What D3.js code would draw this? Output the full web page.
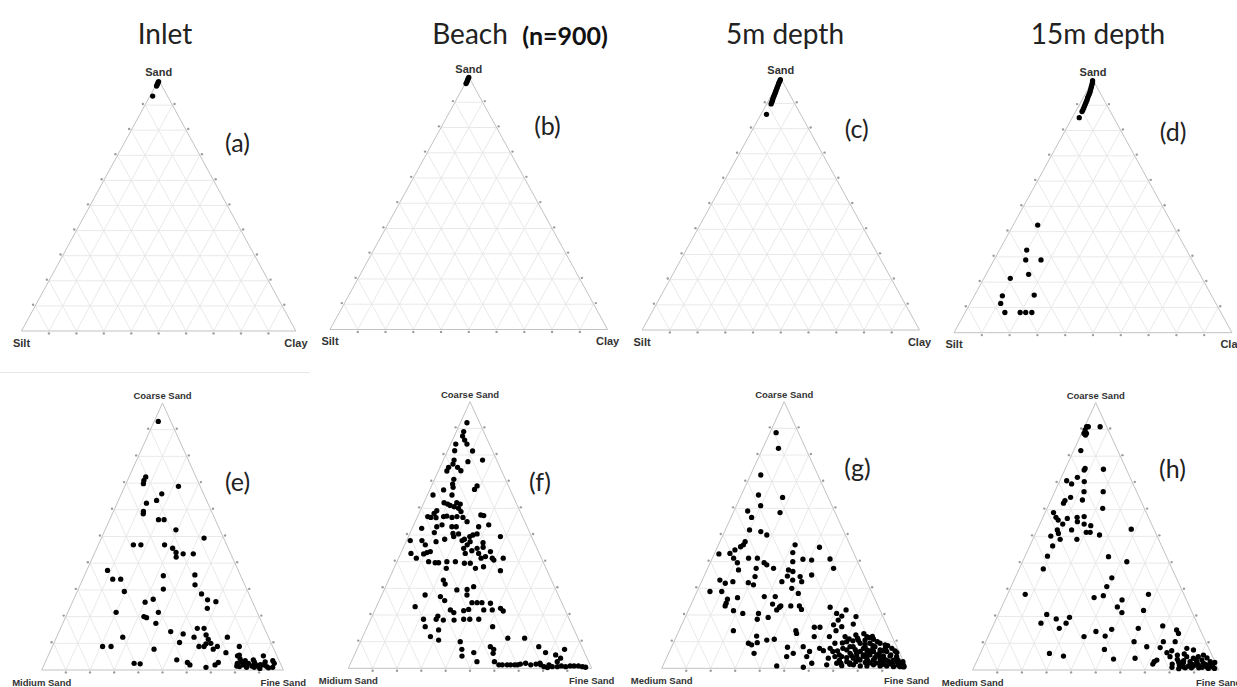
<!DOCTYPE html>
<html><head><meta charset="utf-8">
<script src="https://cdn.jsdelivr.net/npm/d3@7/dist/d3.min.js"></script>
<style>body{margin:0;background:#fff;overflow:hidden}svg{display:block}</style>
</head><body>
<svg id="chart" width="1237" height="687"></svg>
<script>
// ---------- text ----------
const columnTitles = ["Inlet", "Beach", "5m depth", "15m depth"];
const sampleLabel = "(n=900)";
const panelTags = ["(a)", "(b)", "(c)", "(d)", "(e)", "(f)", "(g)", "(h)"];
const soilAxes = ["Sand", "Silt", "Clay"];                 // top, left, right
const sandAxesOld = ["Coarse Sand", "Midium Sand", "Fine Sand"];
const sandAxesNew = ["Coarse Sand", "Medium Sand", "Fine Sand"];

// ---------- data: [top %, right %]  (left % = 100 - top - right) ----------
// top row: [Sand %, Clay %]
const inletSoil = [[99.3,0.3],[98.8,0.3],[98.2,0.4],[97.6,0.4],[93.6,1.0]];
const beachSoil = [[99.8,0.1],[99.2,0.1],[98.6,0.2],[98.0,0.3],[97.4,0.3]];
const depth5Soil = [[99.5,0.1],[99.0,0.2],[98.4,0.2],[97.8,0.3],[97.2,0.4],[96.5,0.5],[95.9,0.6],[95.2,0.7],[94.6,0.8],[94.0,0.9],[93.3,1.0],[92.6,1.1],[91.9,1.2],[91.2,1.4],[90.5,1.5],[89.8,1.6],[85.7,2.0]];
const depth15Soil = [[99.7,0.0],[99.0,0.3],[98.3,0.5],[97.5,0.7],[96.8,0.9],[96.0,1.1],[95.2,1.3],[94.5,1.4],[93.7,1.5],[92.9,1.6],[92.1,1.8],[91.3,1.9],[90.5,2.0],[89.7,2.1],[88.9,2.2],[88.1,2.3],[87.5,2.3],[85.1,2.5],
  [42.6,8.8],[32.7,9.8],[28.8,11.4],[28.8,16.9],[21.5,9.5],[23.1,15.3],[14.6,10.1],[14.9,21.4],[11.6,11.0],[8.0,14.3],[8.0,19.8],[8.0,21.8],[8.0,24.0]];

// bottom row: [Coarse %, Fine %]
const inletSand = [[93.1,1.7],[72.3,6.9],[71.0,6.8],[69.8,7.2],[68.8,22.2],[66.0,16.7],[63.5,15.8],[62.5,12.1],[59.4,12.4],[58.5,12.8],[56.3,20.2],[56.3,22.5],[52.5,29.3],[49.4,42.5],[46.9,14.5],[46.9,17.6],[46.9,27.4],[45.6,31.4],[44.0,33.6],[42.3,34.5],[43.5,36.8],[43.5,41.0],[37.3,8.6],[34.0,12.4],[34.0,15.7],[35.3,32.7],[30.3,35.2],[35.6,45.6],[31.9,47.5],[29.4,19.5],[28.5,51.9],[26.5,32.9],[25.4,30.1],[26.3,55.5],[25.6,59.3],[23.1,57.0],[21.6,20.0],[20.0,32.3],[19.6,33.6],[21.6,37.5],[17.5,38.5],[15.6,56.6],[15.6,59.4],[14.4,46.2],[13.5,51.8],[12.3,56.9],[13.1,61.5],[11.5,63.2],[10.0,65.0],[12.3,70.7],[8.8,20.8],[8.8,24.3],[12.3,27.4],[10.3,51.9],[8.8,60.7],[8.8,62.8],[9.8,63.1],[7.8,67.1],[8.8,68.3],[7.8,42.6],[6.5,73.0],[8.8,77.4],[5.6,79.0],[2.5,37.0],[2.3,39.6],[3.8,54.0],[2.8,58.9],[1.9,60.4],[1.0,67.5],[1.9,70.8],[2.8,71.7],[5.3,78.4],[2.5,79.7],[1.3,81.2],[1.9,82.5],[2.5,84.3],[1.5,86.2],[2.3,87.2],[1.5,88.9],[5.3,89.1],[1.9,90.8],[1.3,92.5],[3.5,93.9],[1.0,95.1],[3.1,81.2],[1.0,84.3],[3.8,85.7],
  [4.2,80.0],[2.0,83.2],[3.0,86.5],[1.0,87.5],[2.0,89.5],[0.6,90.0],[3.0,91.0],[2.5,95.0],[0.8,93.5],[1.5,80.0],[3.5,82.5]];

const beachSand = [[92.1,2.7],[88.8,3.0],[87.1,3.4],[85.6,5.0],[84.1,6.7],[81.5,10.3],[84.1,2.1],[81.6,2.9],[78.1,16.1],[78.1,4.4],[76.6,4.7],[75.4,7.2],[75.4,3.5],[74.0,3.5],[74.1,9.2],[77.5,10.4],[70.9,7.9],[69.1,8.3],[67.9,9.1],[68.4,18.7],[67.1,18.3],[66.9,5.7],[65.0,10.1],[65.0,2.3],[62.1,8.3],[61.6,10.0],[61.1,11.3],[60.6,13.2],[62.1,13.5],[61.6,15.2],[60.0,15.3],[58.8,16.9],[59.1,6.8],[58.1,6.2],[56.9,4.2],[56.6,5.6],[56.5,7.8],[56.9,10.7],[57.1,11.9],[56.6,14.3],[56.9,16.2],[53.1,17.8],[57.5,25.7],[57.3,27.0],[56.6,18.8],[55.0,21.3],[53.1,9.8],[50.9,9.9],[53.8,11.6],[53.1,16.0],[50.6,17.7],[50.4,20.1],[52.5,3.9],[53.1,27.0],[53.8,30.8],[47.9,1.5],[47.9,6.3],[46.3,8.5],[43.4,10.6],[42.9,9.5],[47.5,12.3],[48.4,15.4],[49.4,18.6],[47.9,22.8],[48.4,23.5],[49.4,25.2],[46.3,25.7],[50.0,26.2],[50.4,27.7],[47.5,26.3],[45.0,24.9],[43.1,26.5],[44.1,28.7],[45.0,30.4],[47.1,31.8],[45.4,32.7],[49.4,37.8],[43.1,32.0],[41.3,33.9],[41.9,35.4],[43.8,36.5],[40.6,39.5],[38.1,36.5],[37.5,33.5],[39.4,30.4],[39.4,28.0],[40.0,24.0],[39.6,15.9],[40.0,13.0],[43.1,4.2],[41.3,7.3],[43.8,11.8],[39.6,17.3],[40.0,20.5],[37.5,21.5],[36.6,44.2],[41.3,43.0],[41.3,38.5],[33.1,22.5],[31.6,24.0],[29.4,29.9],[29.6,34.0],[30.6,36.2],[27.5,35.0],[27.5,17.8],[26.9,24.4],[25.4,26.9],[23.1,15.9],[21.9,31.0],[20.9,32.9],[21.6,36.6],[22.1,38.4],[24.6,38.5],[24.6,40.6],[24.6,42.6],[24.4,46.2],[21.9,48.2],[21.9,44.7],[22.5,51.3],[21.5,52.9],[18.4,21.7],[18.4,26.9],[19.6,27.0],[18.1,30.0],[15.6,23.8],[14.4,29.9],[18.1,34.4],[18.4,38.2],[18.4,40.7],[18.4,44.4],[15.6,51.5],[11.3,59.9],[11.3,66.8],[11.9,27.8],[10.6,31.8],[10.0,41.0],[5.9,48.6],[8.1,54.3],[7.1,56.2],[7.1,43.1],[4.6,44.4],[2.5,51.6],[5.6,56.7],[2.5,58.8],[1.3,61.2],[1.3,62.6],[1.3,64.6],[1.3,66.0],[1.3,67.7],[1.3,68.8],[1.3,74.3],[1.9,77.8],[1.3,78.4],[0.6,80.1],[0.3,81.7],[1.3,81.8],[0.6,83.5],[0.6,85.6],[0.9,87.1],[0.6,89.0],[0.9,90.7],[0.9,92.3],[0.9,94.1],[0.6,95.9],[0.4,97.3],[8.1,74.2],[5.9,78.1],[5.0,82.7],[3.8,85.3],[7.1,85.3],[2.5,84.6],[1.6,69.9],[1.9,71.9],[1.6,76.3]];

const depth5Sand = [[88.4,2.5],[82.5,6.4],[72.5,4.2],[65.0,7.0],[64.1,17.3],[61.0,9.9],[58.4,19.1],[59.0,5.6],[56.6,8.4],[51.9,9.9],[51.3,14.8],[50.0,17.9],[47.5,10.3],[46.3,10.2],[45.6,9.4],[44.4,7.7],[43.1,6.3],[42.9,1.9],[41.3,8.7],[39.6,11.1],[36.9,12.9],[41.3,14.8],[41.3,18.4],[39.6,22.0],[38.8,23.5],[37.5,26.9],[37.5,19.8],[34.4,20.9],[32.1,19.3],[31.3,21.8],[33.1,7.2],[31.9,10.0],[32.5,12.8],[28.8,5.3],[28.8,10.1],[25.9,13.9],[26.5,17.7],[24.4,14.1],[23.4,14.2],[26.9,28.4],[26.9,32.9],[24.1,33.2],[22.9,36.6],[21.9,36.0],[23.4,36.9],[23.4,41.0],[23.4,44.5],[22.1,46.0],[40.0,33.5],[36.3,35.4],[36.9,33.3],[34.6,34.0],[34.4,39.3],[35.0,43.7],[40.6,40.9],[45.4,41.7],[41.0,48.2],[46.3,31.3],[43.4,31.8],[40.9,37.2],[30.0,38.1],[32.5,32.8],[33.1,36.9],[32.5,40.9],[28.1,41.7],[21.6,18.5],[20.6,22.8],[20.6,29.2],[19.1,33.9],[18.4,29.8],[14.1,22.2],[9.4,30.7],[8.8,32.3],[12.1,32.7],[9.6,34.2],[10.6,37.6],[10.9,40.5],[5.6,34.9],[0.9,46.5],[0.4,57.6],[5.6,50.9],[7.9,47.4],[4.4,48.8],[14.1,47.7],[13.1,48.5],[8.1,53.7],[6.3,57.2],[4.4,57.0],[15.4,54.6],[15.4,56.9],[11.9,56.3],[7.5,60.7],[3.8,66.1],[1.9,60.3],[37.5,51.4],[22.9,57.3],[20.6,61.1],[18.1,63.0],[16.3,62.0],[19.6,63.7],[11.9,68.9],[10.0,70.5],[9.4,66.0],[6.6,62.7],[11.9,62.5],[14.1,64.1],[15.6,65.7],[16.6,69.9],[21.9,64.3],[19.4,69.6],[10.3,72.9],[7.5,70.2],[7.5,65.0],[4.4,68.5],[1.3,66.7],[1.9,70.5],[6.3,66.7],
  [8.1,74.1],[9.4,76.3],[10.6,77.7],[9.4,80.3],[8.1,83.0],[9.4,84.4],[6.3,77.9],[6.9,80.3],[6.3,83.3],[6.9,85.7],[6.3,88.7],[3.8,76.3],[3.1,79.4],[3.8,81.8],[3.1,84.8],[3.8,87.2],[3.1,90.2],[3.1,93.0],[2.1,96.2],[2.5,74.3],[1.3,77.6],[0.9,80.6],[0.9,83.3],[1.3,85.8],[0.9,88.7],[0.9,91.4],[0.6,94.3],[0.6,97.0],[0.5,98.5],[5.6,74.1],[5.0,77.1],[5.0,79.8],[5.0,82.5],[5.0,85.3],[4.6,88.2],[4.6,90.9],[4.4,93.7],[4.4,71.3],[6.9,72.1],[11.3,74.3],[11.9,77.8],[10.9,81.0],[8.8,86.8],[7.5,90.2],[5.9,93.0],[2.5,97.2],[1.9,72.2],[8.1,72.8],
  [7.0,75.5],[2.0,75.8],[2.2,82.0],[2.0,86.5],[2.0,89.8],[1.6,92.8],[3.0,95.0],[7.5,78.6],[4.0,73.5],
  [1.0,73.0],[1.5,76.0],[2.5,78.0],[3.5,78.5],[4.5,80.0],[5.5,81.0],[6.5,81.5],[7.5,82.5],[8.5,82.0],[3.0,82.5],[2.0,84.0],[4.0,85.0],[5.5,86.0],[6.5,87.0],[7.5,87.5],[8.5,88.0],[2.5,88.0],[1.5,89.5],[3.5,89.0],[5.0,91.0],[6.5,92.0],[2.5,91.5],[1.5,93.5],[3.8,94.0],[2.5,94.8],[1.2,95.8],[1.8,97.5],[0.8,98.5],[4.8,75.0],[6.0,76.5],[9.0,78.5],[10.5,75.0],[12.5,73.0],[11.0,71.0],[9.5,69.0],[12.0,80.0],[10.0,83.0],[8.0,79.0],[3.0,71.0],[5.0,70.0],[6.5,68.5],[13.0,76.0],[11.5,79.0]];

const depth15Sand = [[91.0,0.8],[89.8,0.8],[88.5,1.0],[88.5,2.0],[91.0,1.5],[91.0,6.3],[87.9,1.9],[82.1,2.9],[74.8,7.9],[75.4,8.0],[75.1,15.6],[70.8,2.8],[69.6,5.4],[72.1,6.5],[70.5,10.1],[66.7,11.9],[66.7,19.7],[64.6,7.5],[62.4,5.7],[63.4,5.8],[63.6,12.8],[60.5,22.6],[58.9,3.4],[57.1,5.3],[56.1,6.7],[56.7,10.1],[57.1,13.9],[57.4,16.6],[55.5,14.8],[54.6,18.0],[54.0,21.0],[51.5,20.4],[51.5,22.0],[54.6,9.3],[52.4,8.2],[51.1,9.3],[50.1,6.7],[48.9,11.1],[52.4,14.0],[48.9,17.9],[50.5,26.3],[52.7,38.1],[46.4,9.3],[42.6,9.1],[42.4,34.0],[40.5,42.4],[37.8,9.8],[34.5,39.3],[31.2,38.9],[28.3,7.2],[27.1,35.8],[27.8,39.2],[26.2,47.6],[23.6,47.0],[21.5,49.9],[28.3,57.3],[22.3,58.3],[20.8,19.7],[17.5,19.0],[19.1,24.4],[17.5,29.2],[15.6,27.4],[19.7,29.5],[12.5,39.0],[14.4,42.9],[12.7,47.5],[15.2,48.9],[15.6,59.5],[10.6,60.3],[8.7,66.4],[16.5,69.0],[15.0,75.4],[13.7,76.8],[10.6,77.0],[10.6,72.2],[8.4,72.0],[6.5,75.7],[7.2,77.3],[5.6,80.4],[3.1,82.1],[5.0,77.7],[3.7,73.0],[2.2,72.1],[3.1,72.2],[4.4,63.8],[4.1,55.2],[7.7,49.7],[6.2,28.1],[5.2,34.3],[8.1,83.0],[5.0,84.5],[2.7,84.3],[7.5,86.0],[4.4,87.5],[5.0,89.2],[5.6,91.0],[2.5,92.6],[1.5,95.1],[1.0,97.3],[1.5,89.0],[1.5,87.0],[1.9,90.8],[3.1,86.8],[3.1,89.5],[3.7,91.3],[3.1,95.0],[1.2,85.0],[1.2,94.5],[2.0,83.0],[0.8,91.5],[2.2,88.0],
  [0.8,86.0],[1.8,87.8],[2.4,90.0],[0.8,88.5],[1.0,92.8],[2.0,93.8],[0.6,95.5],[0.6,98.0],[1.6,96.5],[2.8,97.0],[4.0,88.8],[4.5,93.0],[0.5,83.5],[1.0,80.5],[2.2,80.0],[4.0,81.2],[6.0,83.0],[3.5,84.0]];

// ---------- layout ----------
const panels = [
  {cx:158.7, hw:137.2, apexY:80,    baseY:331,   axes:soilAxes,    fs:11,  data:inletSoil,   tag:[237.5,144]},
  {cx:468.8, hw:138.8, apexY:77,    baseY:329.5, axes:soilAxes,    fs:11,  data:beachSoil,   tag:[547.5,127]},
  {cx:780.8, hw:138.7, apexY:78.3,  baseY:330,   axes:soilAxes,    fs:11,  data:depth5Soil,  tag:[856.7,130]},
  {cx:1093,  hw:139,   apexY:80,    baseY:332.7, axes:soilAxes,    fs:11,  data:depth15Soil, tag:[1173,132.5]},
  {cx:162.5, hw:120.8, apexY:403,   baseY:670,   axes:sandAxesOld, fs:9.5, data:inletSand,   tag:[237.5,483]},
  {cx:470,   hw:121.7, apexY:401.7, baseY:668.3, axes:sandAxesOld, fs:9.5, data:beachSand,   tag:[540,482.5]},
  {cx:784.2, hw:122.5, apexY:401.7, baseY:668.3, axes:sandAxesNew, fs:9.5, data:depth5Sand,  tag:[857.5,469]},
  {cx:1095.7,hw:123,   apexY:402.7, baseY:670,   axes:sandAxesNew, fs:9.5, data:depth15Sand, tag:[1172.5,470]}
];
const titleX = [165, 470, 785, 1098];

const svg = d3.select("#chart");
svg.append("rect").attr("width",1237).attr("height",687).attr("fill","#fff");
svg.append("line").attr("x1",0).attr("x2",310).attr("y1",372.5).attr("y2",372.5)
   .attr("stroke","#e6e6e6").attr("stroke-width",1);

// titles
svg.selectAll("text.title").data(columnTitles).join("text")
  .attr("class","title")
  .attr("x",(d,i)=>titleX[i]).attr("y",44)
  .attr("text-anchor","middle")
  .style("font-family","Lato, 'Open Sans', sans-serif").style("font-size","28px").style("fill","#222")
  .text(d=>d);
svg.append("text").attr("x",565).attr("y",45).attr("text-anchor","middle")
  .style("font-family","Lato, 'Open Sans', sans-serif").style("font-size","25px").style("font-weight","bold").style("fill","#111")
  .text(sampleLabel);

panels.forEach((p, idx) => {
  const g = svg.append("g");
  const y = d3.scaleLinear().domain([0,100]).range([p.baseY, p.apexY]);
  const x = d3.scaleLinear().domain([0,100]).range([p.cx - p.hw, p.cx + p.hw]);
  const pos = (t, r) => [x(r + t/2), y(t)];
  const steps = d3.range(10, 100, 10);
  const grid = [];
  steps.forEach(k => {
    grid.push([pos(k,0), pos(k,100-k)]);
    grid.push([pos(0,k), pos(100-k,k)]);
    grid.push([pos(0,100-k), pos(100-k,0)]);
  });
  g.selectAll("line.grid").data(grid).join("line")
    .attr("x1",d=>d[0][0]).attr("y1",d=>d[0][1]).attr("x2",d=>d[1][0]).attr("y2",d=>d[1][1])
    .attr("stroke","#e6e6e6").attr("stroke-width",0.9);
  g.append("path")
    .attr("d", d3.line()([pos(100,0), pos(0,0), pos(0,100)]) + "Z")
    .attr("fill","none").attr("stroke","#c2c2c2").attr("stroke-width",1);

  // ticks
  const H = p.baseY - p.apexY, L = Math.hypot(H, p.hw), off = 2.4;
  const ticks = [];
  steps.forEach(k => {
    const a = pos(k,0);   ticks.push([a[0] - off*H/L, a[1] - off*p.hw/L]);
    const b = pos(k,100-k); ticks.push([b[0] + off*H/L, b[1] - off*p.hw/L]);
    const c = pos(0,k);   ticks.push([c[0], c[1] + off]);
  });
  g.selectAll("circle.tick").data(ticks).join("circle")
    .attr("cx",d=>d[0]).attr("cy",d=>d[1]).attr("r",1.2).attr("fill","#9c9c9c");

  // corner labels
  const lab = [
    {t:p.axes[0], x:p.cx, y:p.apexY - 4},
    {t:p.axes[1], x:p.cx - p.hw, y:p.baseY + 15.5},
    {t:p.axes[2], x:p.cx + p.hw, y:p.baseY + 15.5}
  ];
  g.selectAll("text.ax").data(lab).join("text")
    .attr("x",d=>d.x).attr("y",d=>d.y).attr("text-anchor","middle")
    .style("font-family","'Liberation Sans', Arial, sans-serif").style("font-weight","bold")
    .style("font-size",p.fs+"px").style("fill","#333").text(d=>d.t);

  // points
  g.selectAll("circle.pt").data(p.data).join("circle")
    .attr("cx",d=>pos(d[0],d[1])[0]).attr("cy",d=>pos(d[0],d[1])[1])
    .attr("r",2.65).attr("fill","#000");

  // tag
  g.append("text").attr("x",p.tag[0]).attr("y",p.tag[1]+8).attr("text-anchor","middle")
    .style("font-family","Lato, 'Open Sans', sans-serif").style("font-size","25px").style("fill","#222")
    .text(panelTags[idx]);
});
</script>
</body></html>
